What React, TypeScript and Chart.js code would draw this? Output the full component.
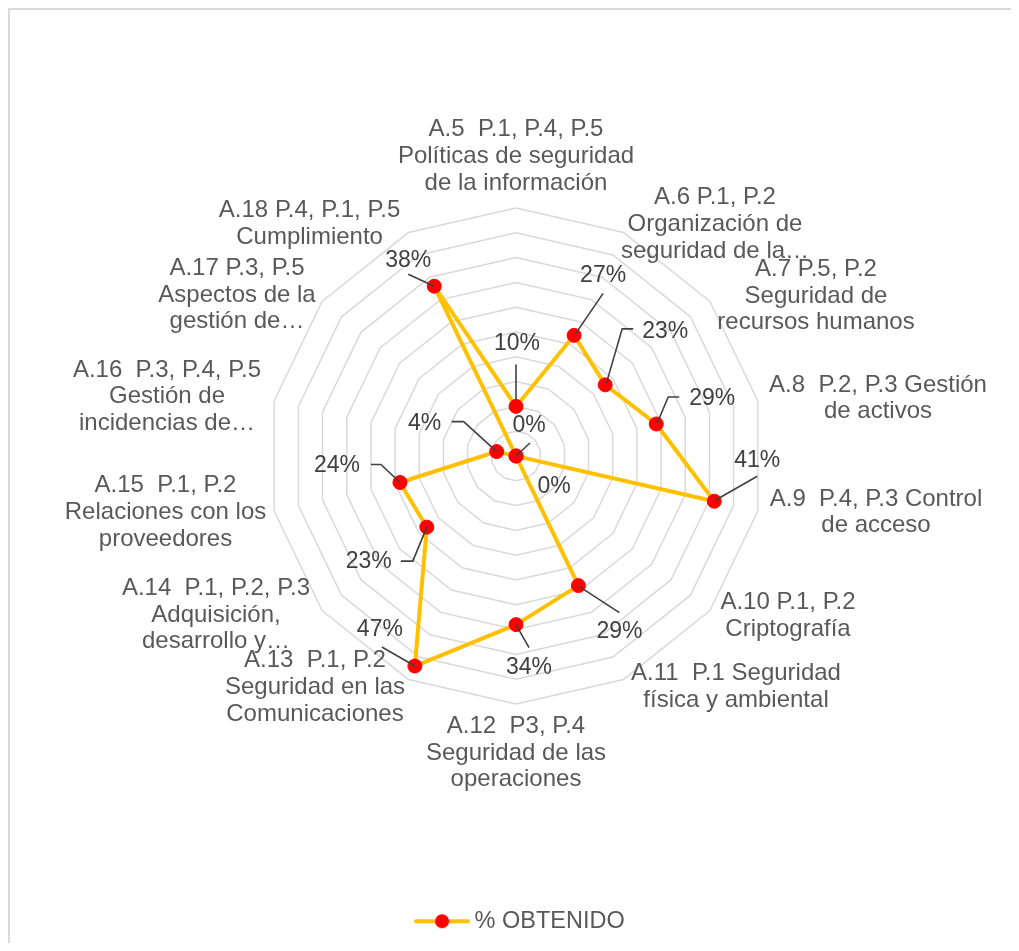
import React, { useEffect, useRef } from "react";
import { Chart, registerables } from "chart.js";

Chart.register(...registerables);

// ---------- data ----------
const categories: string[][] = [
  ["A.5  P.1, P.4, P.5", "Políticas de seguridad", "de la información"],
  ["A.6 P.1, P.2", "Organización de", "seguridad de la…"],
  ["A.7 P.5, P.2", "Seguridad de", "recursos humanos"],
  ["A.8  P.2, P.3 Gestión", "de activos"],
  ["A.9  P.4, P.3 Control", "de acceso"],
  ["A.10 P.1, P.2", "Criptografía"],
  ["A.11  P.1 Seguridad", "física y ambiental"],
  ["A.12  P3, P.4", "Seguridad de las", "operaciones"],
  ["A.13  P.1, P.2", "Seguridad en las", "Comunicaciones"],
  ["A.14  P.1, P.2, P.3", "Adquisición,", "desarrollo y…"],
  ["A.15  P.1, P.2", "Relaciones con los", "proveedores"],
  ["A.16  P.3, P.4, P.5", "Gestión de", "incidencias de…"],
  ["A.17 P.3, P.5", "Aspectos de la", "gestión de…"],
  ["A.18 P.4, P.1, P.5", "Cumplimiento"],
];
const obtenido: number[] = [10, 27, 23, 29, 41, 0, 29, 34, 47, 23, 24, 4, 0, 38];
const seriesName = "% OBTENIDO";
const axisMin = 0;
const axisMax = 50;
const axisStep = 5;

// ---------- style / layout ----------
const FONT = "'Liberation Sans', Arial, sans-serif";
const CENTER_X = 506;
const CENTER_Y = 446;
const RADIUS = 248;
const LINE_GAP = 26.7;

// category label block centres, relative to the radar centre
const CATEGORY_LABEL_OFFSETS: [number, number][] = [
  [0, -299.5],
  [199, -231.5],
  [300, -160],
  [362, -57.7],
  [360, 56.5],
  [272, 160],
  [220, 230.7],
  [0, 297],
  [-201, 231.5],
  [-300, 159],
  [-350.5, 56.5],
  [-349, -59.3],
  [-279, -161],
  [-206.4, -232],
];

// value label placement relative to each point, with leader-line vertices
const VALUE_LABEL_STYLE: { dx: number; dy: number; leader: [number, number][] }[] = [
  { dx: 1, dy: -63, leader: [[0, -42], [0, -7]] },
  { dx: 29, dy: -60, leader: [[29, -42], [1, -1]] },
  { dx: 60, dy: -53, leader: [[28, -56], [17, -56], [1, -1]] },
  { dx: 56, dy: -25, leader: [[23, -27], [12, -27], [1, -1]] },
  { dx: 43, dy: -41, leader: [[43, -25], [1, -1]] },
  { dx: 38, dy: 31, leader: [] },
  { dx: 41, dy: 46, leader: [[41, 27], [1, 1]] },
  { dx: 13, dy: 43, leader: [[13, 23], [0, 0]] },
  { dx: -35, dy: -36, leader: [[-33, -19], [0, 0]] },
  { dx: -58, dy: 35, leader: [[-26, 34], [-14, 34], [0, 0]] },
  { dx: -63, dy: -17, leader: [[-29, -18], [-19, -18], [0, 0]] },
  { dx: -72, dy: -28, leader: [[-45, -30], [-33, -30], [0, 0]] },
  { dx: 13, dy: -30, leader: [[14, -13], [0, 0]] },
  { dx: -26, dy: -26, leader: [[-26, -12], [0, 0]] },
];

const categoryLabelPlugin = {
  id: "categoryLabels",
  afterDraw(chart: any) {
    const scale = chart.scales.r;
    const ctx = chart.ctx;
    ctx.save();
    ctx.font = `24px ${FONT}`;
    ctx.fillStyle = "#595959";
    ctx.textAlign = "center";
    ctx.textBaseline = "middle";
    categories.forEach((lines, i) => {
      const [ox, oy] = CATEGORY_LABEL_OFFSETS[i];
      const cx = scale.xCenter + ox;
      const cy = scale.yCenter + oy;
      const startY = cy - ((lines.length - 1) / 2) * LINE_GAP;
      lines.forEach((ln, j) => ctx.fillText(ln, cx, startY + j * LINE_GAP));
    });
    ctx.restore();
  },
};

const valueLabelPlugin = {
  id: "valueLabels",
  afterDatasetsDraw(chart: any) {
    const meta = chart.getDatasetMeta(0);
    const ctx = chart.ctx;
    ctx.save();
    ctx.strokeStyle = "#404040";
    ctx.lineWidth = 1.6;
    meta.data.forEach((pt: any, i: number) => {
      const st = VALUE_LABEL_STYLE[i];
      if (st.leader.length > 1) {
        ctx.beginPath();
        st.leader.forEach(([lx, ly], k) => {
          if (k === 0) ctx.moveTo(pt.x + lx, pt.y + ly);
          else ctx.lineTo(pt.x + lx, pt.y + ly);
        });
        ctx.stroke();
      }
    });
    ctx.font = `23px ${FONT}`;
    ctx.fillStyle = "#404040";
    ctx.textAlign = "center";
    ctx.textBaseline = "middle";
    meta.data.forEach((pt: any, i: number) => {
      const st = VALUE_LABEL_STYLE[i];
      ctx.fillText(`${obtenido[i]}%`, pt.x + st.dx, pt.y + st.dy);
    });
    ctx.restore();
  },
};

export default function App() {
  const canvasRef = useRef<HTMLCanvasElement | null>(null);

  useEffect(() => {
    if (!canvasRef.current) return;

    const icon = document.createElement("canvas");
    icon.width = 56;
    icon.height = 16;
    const ic = icon.getContext("2d")!;
    ic.strokeStyle = "#FFC000";
    ic.lineWidth = 4;
    ic.lineCap = "round";
    ic.beginPath();
    ic.moveTo(2, 8);
    ic.lineTo(54, 8);
    ic.stroke();
    ic.fillStyle = "#FF0000";
    ic.beginPath();
    ic.arc(28, 8, 7, 0, Math.PI * 2);
    ic.fill();

    const chart = new Chart(canvasRef.current, {
      type: "radar",
      data: {
        labels: categories,
        datasets: [
          {
            label: seriesName,
            data: obtenido,
            borderColor: "#FFC000",
            borderWidth: 4,
            backgroundColor: "#FF0000",
            pointBackgroundColor: "#FF0000",
            pointBorderColor: "#FF0000",
            pointBorderWidth: 1,
            pointRadius: 7,
            pointHoverRadius: 7,
            fill: false,
            tension: 0,
            clip: false as any,
          },
        ],
      },
      options: {
        responsive: false,
        animation: false,
        layout: { padding: { left: 25, right: 0, top: 0, bottom: 0 } },
        plugins: {
          legend: {
            display: true,
            position: "bottom",
            labels: {
              usePointStyle: true,
              pointStyle: icon as any,
              pointStyleWidth: 41.5,
              color: "#595959",
              font: { family: FONT, size: 23.5 },
              padding: 10,
            },
          },
          tooltip: { enabled: false },
        },
        scales: {
          r: {
            min: axisMin,
            max: axisMax,
            ticks: { display: false, stepSize: axisStep },
            grid: { color: "#d9d9d9", lineWidth: 1.5 },
            angleLines: { display: false },
            pointLabels: { display: false },
            afterFit: (scale: any) => {
              scale.xCenter = CENTER_X;
              scale.yCenter = CENTER_Y;
              scale.drawingArea = RADIUS;
            },
          } as any,
        },
      },
      plugins: [categoryLabelPlugin, valueLabelPlugin],
    });

    return () => chart.destroy();
  }, []);

  return (
    <div
      style={{
        width: 1009,
        height: 933,
        borderLeft: "2px solid #d9d9d9",
        borderTop: "2px solid #d9d9d9",
        background: "#ffffff",
      }}
    >
      <canvas ref={canvasRef} width={1001} height={933} style={{ display: "block" }} />
    </div>
  );
}
